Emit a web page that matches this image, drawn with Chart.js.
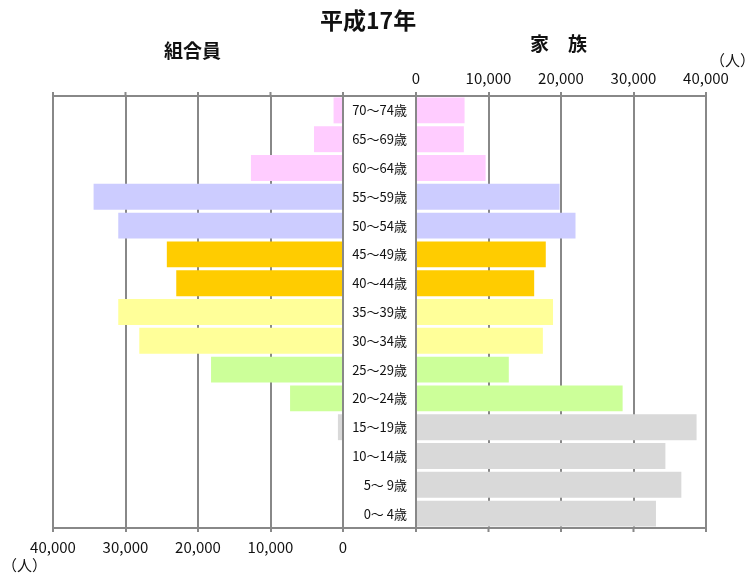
<!DOCTYPE html>
<html>
<head>
<meta charset="utf-8">
<script src="https://cdn.jsdelivr.net/npm/chart.js@4/dist/chart.umd.min.js"></script>
<style>
  body { margin: 0; background: #fff; }
  #wrap { position: relative; width: 745px; height: 581px; font-family: "Noto Sans CJK JP", sans-serif; color: #111; }
  #wrap canvas { position: absolute; top: 0; }
  .txt { position: absolute; white-space: nowrap; line-height: 1; }
</style>
</head>
<body>
<div id="wrap">
  <canvas id="leftChart" width="360" height="581" style="left:0"></canvas>
  <canvas id="rightChart" width="401" height="581" style="left:344px"></canvas>
  <div class="txt" style="left:320px;top:8px;font-size:23px;font-weight:bold;">平成17年</div>
  <div class="txt" style="left:164px;top:40px;font-size:19px;font-weight:bold;">組合員</div>
  <div class="txt" style="left:530px;top:33px;font-size:19px;font-weight:bold;">家　族</div>
  <div class="txt" style="left:710px;top:52px;font-size:15px;">（人）</div>
  <div class="txt" style="left:2px;top:557px;font-size:15px;">（人）</div>
</div>
<script>
// 年齢階級（上から）
const ageLabels = ['70～74歳', '65～69歳', '60～64歳', '55～59歳', '50～54歳', '45～49歳', '40～44歳',
  '35～39歳', '30～34歳', '25～29歳', '20～24歳', '15～19歳', '10～14歳', '5～ 9歳', '0～ 4歳'];
// 組合員（人）
const memberCounts = [1300, 4000, 12700, 34400, 31000, 24300, 23000, 31000, 28100, 18200, 7300, 700, 0, 0, 0];
// 家族（人）
const familyCounts = [6700, 6600, 9600, 19800, 22000, 17900, 16300, 18900, 17500, 12800, 28500, 38700, 34400, 36600, 33100];
// 目盛り
const axisMax = 40000;
const axisStep = 10000;

// 年齢帯ごとの色
const rowColors = ['#FFCCFF', '#FFCCFF', '#FFCCFF', '#CCCCFF', '#CCCCFF', '#FFCC00', '#FFCC00',
  '#FFFF99', '#FFFF99', '#CCFF99', '#CCFF99', '#D9D9D9', '#D9D9D9', '#D9D9D9', '#D9D9D9'];

const lineColor = '#888888';
const fontFamily = '"Noto Sans CJK JP", sans-serif';
Chart.defaults.font.family = fontFamily;
Chart.defaults.color = '#111';

const fmt = v => v.toString().replace(/\B(?=(\d{3})+(?!\d))/g, ',');

// 枠線と反対側の目盛り線
const framePlugin = {
  id: 'frame',
  afterDraw(chart, args, opts) {
    const { ctx, chartArea, scales } = chart;
    ctx.save();
    ctx.strokeStyle = lineColor;
    ctx.lineWidth = 2;
    const left = opts.fromLabels ? scales.y.left : chartArea.left;
    ctx.beginPath();
    const yLine = opts.side === 'top' ? chartArea.top : chartArea.bottom;
    ctx.moveTo(left, yLine);
    ctx.lineTo(chartArea.right, yLine);
    if (opts.fromLabels) {
      ctx.moveTo(left, chartArea.top);
      ctx.lineTo(chartArea.right, chartArea.top);
    }
    scales.x.ticks.forEach(t => {
      const x = scales.x.getPixelForValue(t.value);
      ctx.moveTo(x, yLine);
      ctx.lineTo(x, opts.side === 'top' ? yLine - 4 : yLine + 4);
    });
    ctx.stroke();
    ctx.restore();
  }
};

function barData(values) {
  return {
    labels: ageLabels,
    datasets: [{
      data: values,
      backgroundColor: rowColors,
      borderWidth: 0,
      categoryPercentage: 0.9,
      barPercentage: 1
    }]
  };
}

const xTicks = {
  stepSize: axisStep,
  font: { size: 15 },
  color: '#111',
  maxRotation: 0,
  callback: v => fmt(v)
};

// 左：組合員
new Chart(document.getElementById('leftChart'), {
  type: 'bar',
  data: barData(memberCounts),
  plugins: [framePlugin],
  options: {
    responsive: false,
    animation: false,
    indexAxis: 'y',
    layout: { padding: { left: 53, right: 17, top: 96, bottom: 0 } },
    plugins: {
      legend: { display: false },
      tooltip: { enabled: false },
      frame: { side: 'top' }
    },
    scales: {
      x: {
        position: 'bottom',
        reverse: true,
        min: 0,
        max: axisMax,
        grid: { color: lineColor, lineWidth: 2, tickLength: 4 },
        border: { color: lineColor, width: 2 },
        ticks: Object.assign({ padding: 6 }, xTicks),
        afterFit(scale) { scale.height = 53; }
      },
      y: { display: false }
    }
  }
});

// 右：家族
new Chart(document.getElementById('rightChart'), {
  type: 'bar',
  data: barData(familyCounts),
  plugins: [framePlugin],
  options: {
    responsive: false,
    animation: false,
    indexAxis: 'y',
    layout: { padding: { left: 0, right: 39, top: 56, bottom: 53 } },
    plugins: {
      legend: { display: false },
      tooltip: { enabled: false },
      frame: { side: 'bottom', fromLabels: true }
    },
    scales: {
      x: {
        position: 'top',
        min: 0,
        max: axisMax,
        grid: { color: lineColor, lineWidth: 2, tickLength: 4 },
        border: { color: lineColor, width: 2 },
        ticks: Object.assign({ padding: 5 }, xTicks),
        afterFit(scale) { scale.height = 40; }
      },
      y: {
        position: 'left',
        grid: { display: false, drawTicks: false },
        border: { color: lineColor, width: 2 },
        ticks: { font: { size: 13 }, color: '#111', padding: 9 },
        afterFit(scale) { scale.width = 72; }
      }
    }
  }
});
</script>
</body>
</html>
